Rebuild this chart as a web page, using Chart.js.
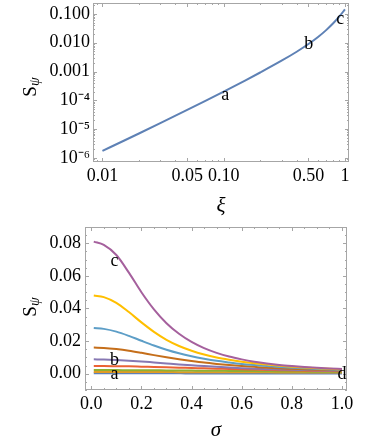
<!DOCTYPE html>
<html>
<head>
<meta charset="utf-8">
<script src="https://cdn.jsdelivr.net/npm/chart.js@4.4.0/dist/chart.umd.min.js"></script>
<style>
  html, body { margin: 0; padding: 0; background: #fff; }
  #top { position: absolute; left: 0; top: 0; width: 374px; height: 220px; }
  #bottom { position: absolute; left: 0; top: 220px; width: 374px; height: 221px; }
</style>
</head>
<body>
<div id="top"><canvas id="chartXi" width="374" height="220"></canvas></div>
<div id="bottom"><canvas id="chartSigma" width="374" height="221"></canvas></div>
<script>
// --- top panel: S_psi against xi (log-log) ---
const xiValues = [0.01, 0.015, 0.02, 0.03, 0.05, 0.07, 0.1, 0.15, 0.2, 0.3, 0.4, 0.5, 0.6, 0.7, 0.8, 0.9, 1.0];
const sOfXi = [1.75e-6, 3.94e-6, 7.04e-6, 1.61e-5, 4.64e-5, 9.4e-5, 2.01e-4, 4.86e-4, 9.25e-4, 2.37e-3, 4.87e-3, 9.0e-3, 0.0158, 0.0274, 0.0473, 0.0822, 0.144];
const xiTicks = [0.01, 0.05, 0.1, 0.5, 1];
const xiTickLabels = ['0.01', '0.05', '0.10', '0.50', '1'];
const sLogTicks = [1e-6, 1e-5, 1e-4, 1e-3, 1e-2, 1e-1];
const sLogTickLabels = ['10⁻⁶', '10⁻⁵', '10⁻⁴', '0.001', '0.010', '0.100'];

// --- bottom panel: S_psi against sigma, one curve per xi ---
const sigmaValues = [0.01, 0.05, 0.1, 0.15, 0.2, 0.25, 0.3, 0.35, 0.4, 0.45, 0.5, 0.55, 0.6, 0.65, 0.7, 0.75, 0.8, 0.85, 0.9, 0.95, 1.0];
const s01 = [0.0002, 0.0002, 0.0002, 0.0002, 0.0002, 0.0002, 0.0002, 0.0002, 0.00019, 0.00019, 0.00019, 0.00019, 0.00019, 0.00019, 0.00018, 0.00018, 0.00018, 0.00018, 0.00018, 0.00018, 0.00018];
const s02 = [0.001, 0.001, 0.001, 0.001, 0.001, 0.001, 0.00098, 0.00096, 0.00094, 0.00092, 0.0009, 0.00088, 0.00086, 0.00084, 0.00082, 0.0008, 0.00078, 0.00076, 0.00074, 0.00072, 0.0007];
const s03 = [0.0022, 0.0022, 0.0022, 0.0021, 0.0021, 0.0021, 0.002, 0.002, 0.0019, 0.0018, 0.0018, 0.0017, 0.0016, 0.0016, 0.0015, 0.0014, 0.0014, 0.0013, 0.0012, 0.0012, 0.0011];
const s04 = [0.0047, 0.0047, 0.0046, 0.0045, 0.0043, 0.0041, 0.0039, 0.0037, 0.0035, 0.0033, 0.0031, 0.0029, 0.0027, 0.0025, 0.0023, 0.0021, 0.002, 0.0018, 0.0017, 0.0016, 0.0015];
const s05 = [0.0088, 0.0087, 0.0084, 0.008, 0.0075, 0.0069, 0.0063, 0.0057, 0.0052, 0.0047, 0.0042, 0.0038, 0.0034, 0.0031, 0.0028, 0.0026, 0.0024, 0.0022, 0.002, 0.0019, 0.0018];
const s06 = [0.016, 0.0158, 0.0151, 0.0141, 0.0128, 0.0114, 0.0101, 0.0089, 0.0078, 0.0068, 0.006, 0.0053, 0.0047, 0.0042, 0.0037, 0.0033, 0.003, 0.0027, 0.0024, 0.0022, 0.002];
const s07 = [0.028, 0.0275, 0.0258, 0.0232, 0.0202, 0.0173, 0.0147, 0.0125, 0.0107, 0.0092, 0.0079, 0.0069, 0.006, 0.0053, 0.0047, 0.0041, 0.0037, 0.0033, 0.0029, 0.0026, 0.0024];
const s08 = [0.048, 0.047, 0.0435, 0.0378, 0.0315, 0.0257, 0.0208, 0.017, 0.0141, 0.0118, 0.01, 0.0086, 0.0074, 0.0064, 0.0056, 0.0049, 0.0043, 0.0038, 0.0034, 0.003, 0.0027];
const s09 = [0.081, 0.079, 0.0728, 0.062, 0.05, 0.0395, 0.031, 0.0245, 0.0195, 0.0157, 0.0128, 0.0105, 0.0088, 0.0074, 0.0063, 0.0054, 0.0047, 0.0041, 0.0036, 0.0032, 0.0029];
const curveColors = ['#5E81B5', '#E19C24', '#8FB032', '#EB6235', '#8778B3', '#C56E1A', '#5D9EC7', '#FFBF00', '#A5609D'];
const sigmaTicks = [0, 0.2, 0.4, 0.6, 0.8, 1.0];
const sigmaTickLabels = ['0.0', '0.2', '0.4', '0.6', '0.8', '1.0'];
const sLinTicks = [0, 0.02, 0.04, 0.06, 0.08];
const sLinTickLabels = ['0.00', '0.02', '0.04', '0.06', '0.08'];

const FONT = 'Liberation Serif';

// frame, inward ticks, point letters and the S_psi axis title
const framePlugin = {
    id: 'frame',
    afterDraw(chart, args, opts) {
        const { ctx, chartArea: a, scales } = chart;
        ctx.save();
        ctx.strokeStyle = '#a6a6a6';
        ctx.lineWidth = 1;
        ctx.strokeRect(Math.round(a.left) + 0.5, Math.round(a.top) + 0.5,
            Math.round(a.right - a.left) - 1, Math.round(a.bottom - a.top) - 1);

        const mark = (axis, vals, len) => {
            const sc = scales[axis];
            vals.forEach(v => {
                if (v < sc.min || v > sc.max) return;
                const p = Math.round(sc.getPixelForValue(v)) + 0.5;
                ctx.beginPath();
                if (axis === 'x') {
                    ctx.moveTo(p, a.bottom); ctx.lineTo(p, a.bottom - len);
                    ctx.moveTo(p, a.top); ctx.lineTo(p, a.top + len);
                } else {
                    ctx.moveTo(a.left, p); ctx.lineTo(a.left + len, p);
                    ctx.moveTo(a.right, p); ctx.lineTo(a.right - len, p);
                }
                ctx.stroke();
            });
        };
        mark('x', opts.xMajor, 4);
        mark('x', opts.xMinor, 2);
        mark('y', opts.yMajor, 4);
        mark('y', opts.yMinor, 2);

        ctx.fillStyle = '#000';
        ctx.font = '18px "' + FONT + '"';
        ctx.textAlign = 'center';
        ctx.textBaseline = 'middle';
        opts.letters.forEach(l => {
            ctx.fillText(l.t, scales.x.getPixelForValue(l.x), scales.y.getPixelForValue(l.y));
        });

        // S with subscript psi, rotated
        ctx.translate(opts.titleX, opts.titleY);
        ctx.rotate(-Math.PI / 2);
        ctx.textAlign = 'left';
        ctx.textBaseline = 'alphabetic';
        ctx.font = '19px "' + FONT + '"';
        const wS = ctx.measureText('S').width;
        ctx.font = 'italic 14px "' + FONT + '"';
        const wP = ctx.measureText('ψ').width;
        const x0 = -(wS + wP) / 2;
        ctx.font = '19px "' + FONT + '"';
        ctx.fillText('S', x0, 6);
        ctx.font = 'italic 14px "' + FONT + '"';
        ctx.fillText('ψ', x0 + wS, 9);
        ctx.restore();
    }
};

function logMinor(lo, hi) {
    const out = [];
    for (let e = lo; e <= hi; e++) {
        for (let k = 2; k <= 9; k++) out.push(k * Math.pow(10, e));
    }
    return out;
}

function stepList(from, to, step) {
    const out = [];
    for (let v = from; v <= to + 1e-9; v += step) out.push(+v.toFixed(4));
    return out;
}

function tickFont() {
    return { family: FONT, size: 18 };
}

function initializeXiChart() {
    const ctx = document.getElementById('chartXi');
    new Chart(ctx, {
        type: 'line',
        data: {
            datasets: [{
                data: xiValues.map((x, i) => ({ x: x, y: sOfXi[i] })),
                borderColor: '#5E81B5',
                borderWidth: 2,
                pointRadius: 0,
                cubicInterpolationMode: 'monotone',
                fill: false
            }]
        },
        options: {
            responsive: false,
            animation: false,
            events: [],
            layout: { padding: { left: 0, right: 25, top: 3, bottom: 0 } },
            plugins: {
                legend: { display: false },
                tooltip: { enabled: false },
                frame: {
                    xMajor: xiTicks, xMinor: logMinor(-3, 0),
                    yMajor: sLogTicks, yMinor: logMinor(-7, -1),
                    letters: [
                        { t: 'a', x: 0.103, y: 1.55e-4 },
                        { t: 'b', x: 0.504, y: 8.6e-3 },
                        { t: 'c', x: 0.913, y: 0.066 }
                    ],
                    titleX: 30, titleY: 87
                }
            },
            scales: {
                x: {
                    type: 'logarithmic',
                    min: 0.00836,
                    max: 1.08,
                    grid: { display: false, drawTicks: false },
                    border: { display: false },
                    afterBuildTicks: s => { s.ticks = xiTicks.map(v => ({ value: v })); },
                    afterFit: s => { s.height = 58; s.paddingLeft = 0; s.paddingRight = 0; },
                    ticks: {
                        autoSkip: false, maxRotation: 0, minRotation: 0, padding: 3, color: '#000',
                        font: tickFont(),
                        callback: (v, i) => xiTickLabels[i]
                    },
                    title: {
                        display: true, text: 'ξ', color: '#000',
                        font: { family: FONT, size: 21, style: 'italic', lineHeight: 1 },
                        padding: { top: 0, bottom: 3 }
                    }
                },
                y: {
                    type: 'logarithmic',
                    min: 7.2e-7,
                    max: 0.24,
                    grid: { display: false, drawTicks: false },
                    border: { display: false },
                    afterBuildTicks: s => { s.ticks = sLogTicks.map(v => ({ value: v })); },
                    afterFit: s => { s.width = 93; s.paddingTop = 0; s.paddingBottom = 0; },
                    ticks: {
                        autoSkip: false, padding: 3, color: '#000',
                        font: tickFont(),
                        callback: (v, i) => sLogTickLabels[i]
                    }
                }
            }
        },
        plugins: [framePlugin]
    });
}

function initializeSigmaChart() {
    const ctx = document.getElementById('chartSigma');
    const series = [s01, s02, s03, s04, s05, s06, s07, s08, s09];
    // first dataset is drawn on top, so put the largest curve first
    const datasets = series.map((vals, k) => ({
        data: sigmaValues.map((x, i) => ({ x: x, y: vals[i] })),
        borderColor: curveColors[k],
        borderWidth: 2,
        pointRadius: 0,
        cubicInterpolationMode: 'monotone',
        fill: false
    })).reverse();

    new Chart(ctx, {
        type: 'line',
        data: { datasets: datasets },
        options: {
            responsive: false,
            animation: false,
            events: [],
            layout: { padding: { left: 0, right: 27, top: 7, bottom: 0 } },
            plugins: {
                legend: { display: false },
                tooltip: { enabled: false },
                frame: {
                    xMajor: sigmaTicks, xMinor: stepList(0, 1, 0.05),
                    yMajor: sLinTicks, yMinor: stepList(-0.01, 0.09, 0.005),
                    letters: [
                        { t: 'c', x: 0.093, y: 0.0688 },
                        { t: 'b', x: 0.093, y: 0.0083 },
                        { t: 'a', x: 0.093, y: -0.0003 },
                        { t: 'd', x: 1.0, y: -0.0003 }
                    ],
                    titleX: 30, titleY: 87
                }
            },
            scales: {
                x: {
                    type: 'linear',
                    min: -0.025,
                    max: 1.02,
                    grid: { display: false, drawTicks: false },
                    border: { display: false },
                    afterBuildTicks: s => { s.ticks = sigmaTicks.map(v => ({ value: v })); },
                    afterFit: s => { s.height = 51; s.paddingLeft = 0; s.paddingRight = 0; },
                    ticks: {
                        autoSkip: false, maxRotation: 0, minRotation: 0, padding: 3, color: '#000',
                        font: tickFont(),
                        callback: (v, i) => sigmaTickLabels[i]
                    },
                    title: {
                        display: true, text: 'σ', color: '#000',
                        font: { family: FONT, size: 21, style: 'italic', lineHeight: 1 },
                        padding: { top: 0, bottom: 0 }
                    }
                },
                y: {
                    type: 'linear',
                    min: -0.01,
                    max: 0.09,
                    grid: { display: false, drawTicks: false },
                    border: { display: false },
                    afterBuildTicks: s => { s.ticks = sLinTicks.map(v => ({ value: v })); },
                    afterFit: s => { s.width = 85; s.paddingTop = 0; s.paddingBottom = 0; },
                    ticks: {
                        autoSkip: false, padding: 4, color: '#000',
                        font: tickFont(),
                        callback: (v, i) => sLinTickLabels[i]
                    }
                }
            }
        },
        plugins: [framePlugin]
    });
}

if (document.readyState === 'complete') {
    initializeXiChart();
    initializeSigmaChart();
} else {
    window.addEventListener('load', () => {
        initializeXiChart();
        initializeSigmaChart();
    });
}
</script>
</body>
</html>
